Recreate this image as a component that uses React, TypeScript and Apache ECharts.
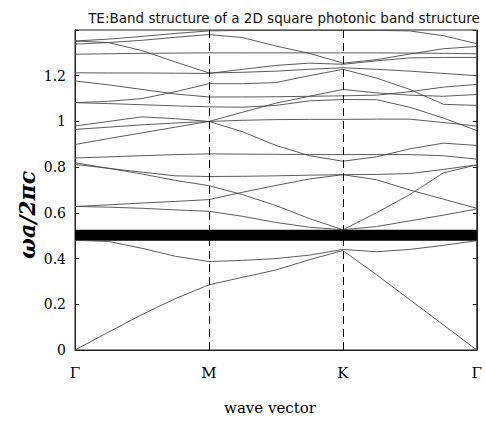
import React, { useEffect, useRef } from "react";
import * as echarts from "echarts";

const kPath = [0, 0.25, 0.5, 0.75, 1, 1.25, 1.5, 1.75, 2, 2.25, 2.5, 2.75, 3];
const kLabels = ["Γ", "M", "K", "Γ"];
const yTicks = [0, 0.2, 0.4, 0.6, 0.8, 1, 1.2];
const gapRange = [0.478, 0.526];

const band1 = [0, 0.078, 0.155, 0.225, 0.285, 0.318, 0.35, 0.395, 0.435, 0.33, 0.22, 0.11, 0];
const band2 = [0.48, 0.475, 0.445, 0.41, 0.387, 0.392, 0.4, 0.415, 0.44, 0.43, 0.44, 0.458, 0.478];
const band3 = [0.628, 0.625, 0.62, 0.613, 0.607, 0.585, 0.558, 0.537, 0.526, 0.54, 0.565, 0.59, 0.617];
const band4 = [0.628, 0.635, 0.643, 0.65, 0.658, 0.69, 0.72, 0.748, 0.767, 0.745, 0.7, 0.66, 0.62];
const band5 = [0.819, 0.795, 0.77, 0.742, 0.719, 0.68, 0.632, 0.575, 0.526, 0.6, 0.68, 0.775, 0.81];
const band6 = [0.812, 0.795, 0.778, 0.762, 0.759, 0.76, 0.762, 0.765, 0.767, 0.768, 0.772, 0.79, 0.81];
const band7 = [0.84, 0.845, 0.85, 0.855, 0.858, 0.857, 0.856, 0.855, 0.855, 0.855, 0.855, 0.85, 0.835];
const band8 = [0.899, 0.925, 0.95, 0.975, 1.0, 0.955, 0.895, 0.85, 0.826, 0.845, 0.88, 0.905, 0.895];
const band9 = [0.965, 0.975, 0.985, 0.993, 1.0, 1.005, 1.008, 1.009, 1.009, 1.01, 1.01, 0.995, 0.98];
const band10 = [0.98, 1.0, 1.02, 1.012, 1.0, 1.04, 1.08, 1.11, 1.14, 1.125, 1.115, 1.11, 1.118];
const band11 = [1.082, 1.078, 1.073, 1.068, 1.064, 1.062, 1.07, 1.09, 1.096, 1.095, 1.062, 1.015, 0.96];
const band12 = [1.082, 1.088, 1.1, 1.13, 1.165, 1.165, 1.17, 1.2, 1.228, 1.19, 1.14, 1.075, 1.07];
const band13 = [1.177, 1.16, 1.14, 1.12, 1.107, 1.107, 1.108, 1.11, 1.112, 1.115, 1.13, 1.15, 1.162];
const band14 = [1.213, 1.212, 1.212, 1.211, 1.21, 1.228, 1.245, 1.255, 1.25, 1.265, 1.278, 1.28, 1.28];
const band15 = [1.352, 1.345, 1.31, 1.26, 1.212, 1.215, 1.22, 1.228, 1.235, 1.228, 1.22, 1.21, 1.2];
const band16 = [1.294, 1.296, 1.298, 1.299, 1.3, 1.3, 1.3, 1.3, 1.3, 1.3, 1.299, 1.298, 1.296];
const band17 = [1.338, 1.345, 1.355, 1.368, 1.38, 1.367, 1.33, 1.298, 1.255, 1.27, 1.295, 1.318, 1.328];
const band18 = [1.352, 1.36, 1.372, 1.385, 1.396, 1.398, 1.398, 1.398, 1.398, 1.398, 1.396, 1.375, 1.34];

const bands = [band1, band2, band3, band4, band5, band6, band7, band8, band9, band10, band11, band12, band13, band14, band15, band16, band17, band18];

const serif = "DejaVu Serif";

export default function App() {
  const ref = useRef<HTMLDivElement>(null);
  useEffect(() => {
    if (!ref.current) return;
    const chart = echarts.init(ref.current, undefined, { renderer: "svg" });
    const series: any[] = bands.map((b, i) => ({
      type: "line",
      data: kPath.map((k, j) => [k, b[j]]),
      symbol: "none",
      silent: true,
      lineStyle: { color: "#4a4a4a", width: 0.9 },
      z: 3,
      ...(i === 0
        ? {
            markLine: {
              silent: true,
              symbol: "none",
              label: { show: false },
              lineStyle: { color: "#000", width: 1, type: [8, 5] },
              data: [{ xAxis: 1 }, { xAxis: 2 }],
            },
            markArea: {
              silent: true,
              itemStyle: { color: "#000", opacity: 1 },
              data: [[{ yAxis: gapRange[0] }, { yAxis: gapRange[1] }]],
            },
          }
        : {}),
    }));
    chart.setOption({
      animation: false,
      backgroundColor: "#fff",
      title: {
        text: "TE:Band structure of a 2D square photonic band structure",
        left: 279,
        textAlign: "center",
        top: 6,
        textStyle: { fontFamily: "DejaVu Sans", fontSize: 13.5, fontWeight: "normal", color: "#111" },
      },
      grid: { left: 75, right: 2, top: 30, bottom: 71, show: true, borderColor: "#222", borderWidth: 1, backgroundColor: "transparent" },
      xAxis: {
        type: "value",
        min: 0,
        max: 3,
        interval: 1,
        axisLine: { show: true, lineStyle: { color: "#222" } },
        axisTick: { show: false },
        splitLine: { show: false },
        axisLabel: {
          margin: 15,
          fontFamily: serif,
          fontSize: 15,
          color: "#000",
          formatter: (v: number) => kLabels[Math.round(v)] ?? "",
        },
      },
      yAxis: [
        {
          type: "value",
          min: 0,
          max: 1.4,
          interval: 0.2,
          axisLine: { show: true, lineStyle: { color: "#222" } },
          axisTick: { show: true, inside: true, length: 4, lineStyle: { color: "#222" } },
          splitLine: { show: false },
          axisLabel: {
            margin: 9,
            fontFamily: serif,
            fontSize: 14,
            color: "#000",
            formatter: (v: number) => {
              const t = yTicks.find((y) => Math.abs(y - v) < 1e-6);
              return t === undefined ? "" : String(t);
            },
          },
        },
        {
          type: "value",
          position: "right",
          min: 0,
          max: 1.4,
          interval: 0.2,
          axisLine: { show: true, lineStyle: { color: "#222" } },
          axisTick: { show: true, inside: true, length: 4, lineStyle: { color: "#222" } },
          splitLine: { show: false },
          axisLabel: { show: false },
        },
      ],
      graphic: [
        {
          type: "text",
          x: 270,
          y: 408,
          style: { text: "wave vector", fontFamily: serif, fontSize: 15, fill: "#000", textAlign: "center", textVerticalAlign: "middle" },
        },
        {
          type: "text",
          x: 27,
          y: 215,
          rotation: Math.PI / 2,
          style: { text: "ωa/2πc", fontFamily: serif, fontSize: 22, fontWeight: "bold", fontStyle: "italic", fill: "#000", textAlign: "center", textVerticalAlign: "middle" },
        },
      ],
      series,
    });
    return () => chart.dispose();
  }, []);
  return <div ref={ref} style={{ position: "fixed", left: 0, top: 0, width: 485, height: 421 }} />;
}
